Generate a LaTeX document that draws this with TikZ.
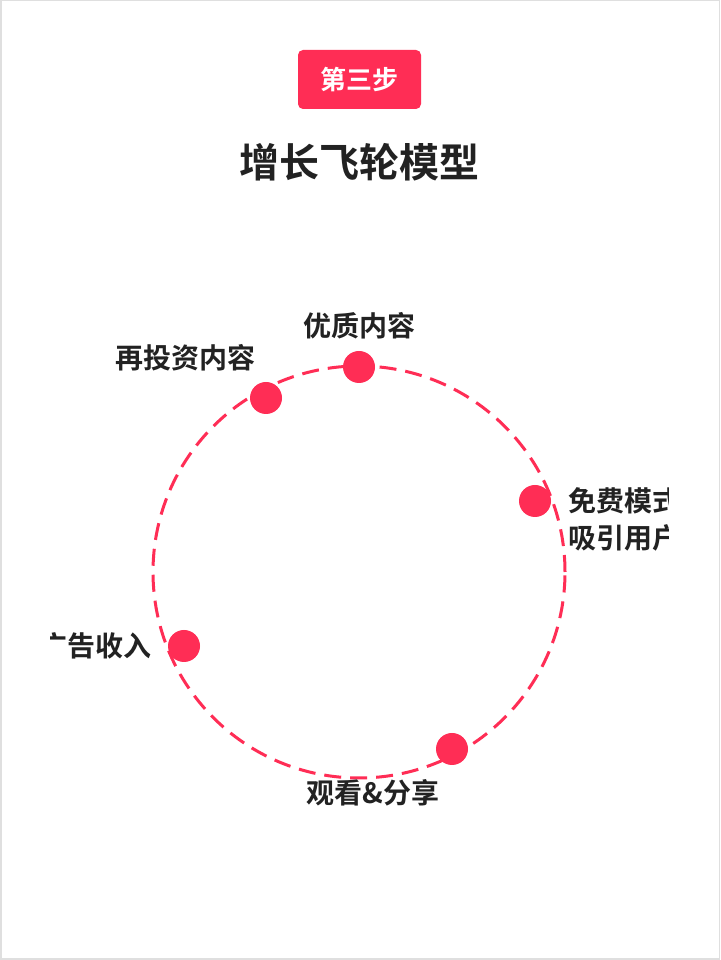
\documentclass[tikz,border=0pt]{standalone}
\usepackage{fontspec}
\setmainfont{Noto Sans CJK SC}[BoldFont={Noto Sans CJK SC Bold}]
\definecolor{accent}{HTML}{FF2D55}
\definecolor{ink}{HTML}{222222}
\tikzset{
 dot/.style={circle,fill=accent,minimum size=32pt,inner sep=0pt},
 lbl/.style={font=\bfseries\fontsize{28}{37}\selectfont,text=ink,inner sep=0pt,align=left},
}
\begin{document}
\begin{tikzpicture}[x=1pt,y=1pt]
\useasboundingbox (0,0) rectangle (720,960);
\fill[white] (0,0) rectangle (720,960);
\draw[gray!25,line width=1.5pt] (0.75,0.75) rectangle (719.25,959.25);
\node[fill=accent,rounded corners=5pt,minimum width=123pt,minimum height=59pt,text=white,font=\bfseries\fontsize{26}{30}\selectfont] (badge) at (359.5,880.5) {第三步};
\node[font=\bfseries\fontsize{40}{46}\selectfont,text=ink] (title) at (359,798) {增长飞轮模型};
\coordinate (c) at (359,388);
\draw[accent,line width=3pt,dash pattern=on 17pt off 9pt] (c) circle (206);
\node[dot] (d1) at (359,593) {};
\node[dot] (d2) at (266,562) {};
\node[dot] (d3) at (535,459) {};
\node[dot] (d4) at (184,314) {};
\node[dot] (d5) at (452,211) {};
\begin{scope}
\clip (50,0) rectangle (668,960);
\node[lbl] (l1) at (359,634) {优质内容};
\node[lbl] (l2) at (185,602) {再投资内容};
\node[lbl,anchor=west] (l3) at (568,440.5) {免费模式\\吸引用户};
\node[lbl,anchor=east] (l4) at (152,314) {广告收入};
\node[lbl] (l5) at (373,167) {观看\&分享};
\end{scope}
\end{tikzpicture}
\end{document}
